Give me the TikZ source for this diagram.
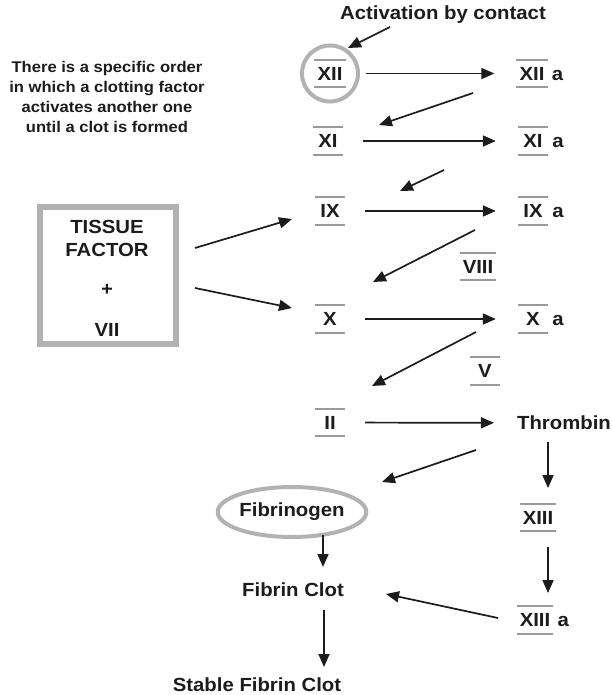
\documentclass[tikz,border=0pt]{standalone}
\usepackage{fontspec}
\setmainfont{Liberation Sans}[FakeStretch=1.07]
\usetikzlibrary{arrows.meta,calc,shapes.geometric}
\definecolor{ink}{HTML}{1C1C1C}
\definecolor{rim}{HTML}{B2B2B2}
\definecolor{barcol}{HTML}{9A9A9A}
\begin{document}
\begin{tikzpicture}[x=1pt,y=-1pt,
  lbl/.style={font=\fontsize{19}{22}\selectfont\bfseries, text=ink, inner sep=0pt},
  fac/.style={lbl, text height=13.6pt, text depth=0pt, inner ysep=6.6pt,
              inner xsep=3pt, minimum width=30pt},
  arr/.style={-{Triangle[length=13pt,width=11pt]}, line width=1.7pt, draw=ink},
  harr/.style={arr, shorten <=20pt, shorten >=22pt},
  facbar/.style={draw=barcol, line width=2pt}]
\useasboundingbox (0,0) rectangle (611,695);

% explanatory note
\node[lbl, font=\fontsize{15.5}{19.7}\selectfont\bfseries, align=center] (note) at (107,97)
  {There is a specific order\\in which a clotting factor\\activates another one\\until a clot is formed};

% trigger
\node[lbl] (act) at (443,15) {Activation by contact};

% tissue factor box
\node[draw=rim, line width=6pt, minimum width=136pt, minimum height=137pt, inner sep=0pt] (tf) at (108,275.5) {};
\node[lbl] (tfa) at (107,227) {TISSUE};
\node[lbl] (tfb) at (107,250) {FACTOR};
\node[lbl] (tfplus) at (107,290) {+};
\node[lbl] (tfvii) at (107,330) {VII};

% clotting factors (left column, inactive)
\node[fac] (xii) at (330,73.5) {XII};
\node[fac] (xi) at (328,141) {XI};
\node[fac] (ix) at (330,211) {IX};
\node[fac] (x) at (330,319) {X};
\node[fac] (ii) at (330,422.5) {II};

% activated factors (right column)
\node[fac] (xiia) at (532,73.5) {XII};
\node[fac] (xia) at (533,141) {XI};
\node[fac] (ixa) at (533,211) {IX};
\node[fac] (xa) at (533,319) {X};
\foreach \n in {xiia,xia,ixa,xa}
  \node[lbl, anchor=base west] (\n-suf) at ($(\n.base east)+(4,0)$) {a};
\node[lbl] (thr) at (564,423) {Thrombin};

% cofactors
\node[fac] (viii) at (478,266.5) {VIII};
\node[fac] (v) at (485,371) {V};

% fibrin stabilisation
\node[fac] (xiii) at (538,517.5) {XIII};
\node[fac] (xiiia) at (535,620) {XIII};
\node[lbl, anchor=base west] (xiiia-suf) at ($(xiiia.base east)+(4,0)$) {a};

% fibrin pathway
\node[lbl, ellipse, draw=rim, line width=4pt, minimum width=142pt, minimum height=50pt] (fbg) at (292,512) {Fibrinogen};
\node[lbl] (fc) at (293,590) {Fibrin Clot};
\node[lbl] (sfc) at (257,685) {Stable Fibrin Clot};

% ring around XII
\node[circle, draw=rim, line width=4pt, minimum size=56pt, inner sep=0pt] (ring) at (xii) {};

% over- and under-bars of the factor labels
\foreach \n in {xii,xi,ix,x,ii,xiia,xia,ixa,xa,viii,v,xiii,xiiia}
  \draw[facbar] (\n.north west) -- (\n.north east) (\n.south west) -- (\n.south east);

% activation steps
\draw[harr] (xii) -- (xiia);
\draw[harr] (xi) -- (xia);
\draw[harr] (ix) -- (ixa);
\draw[harr] (x) -- (xa);
\draw[arr, shorten <=20pt, shorten >=23pt] (ii) -- (thr);

% cascade links
\draw[arr] ($(act)+(-53,12)$) -- ($(xii)+(18,-25.5)$);
\draw[arr] ($(xiia)+(-59,19.5)$) -- ($(xi)+(51,-16)$);
\draw[arr] ($(xia)+(-89,29)$) -- ($(ix)+(70,-20)$);
\draw[arr] ($(ixa)+(-58,19)$) -- ($(x)+(43,-37)$);
\draw[arr] ($(xa)+(-57,13)$) -- ($(ii)+(42,-36.5)$);
\draw[arr] ($(thr)+(-88,27)$) -- ($(fbg)+(90,-30)$);

% tissue factor pathway
\draw[arr] ($(tf)+(87,-27.5)$) -- ($(ix)+(-38,8)$);
\draw[arr] ($(tf)+(87,12.5)$) -- ($(x)+(-38,-11)$);

% thrombin to XIII and on to the clot
\draw[arr] ($(xiii)+(10,-75.5)$) -- ($(xiii)+(10,-29.5)$);
\draw[arr] ($(xiiia)+(13,-73)$) -- ($(xiiia)+(13,-27)$);
\draw[arr] ($(xiiia)+(-37,-2)$) -- ($(fc)+(93,4)$);
\draw[arr] ($(fc)+(30,-55)$) -- ($(fc)+(30,-23)$);
\draw[arr] ($(fc)+(31,20)$) -- ($(fc)+(31,77)$);
\end{tikzpicture}
\end{document}
